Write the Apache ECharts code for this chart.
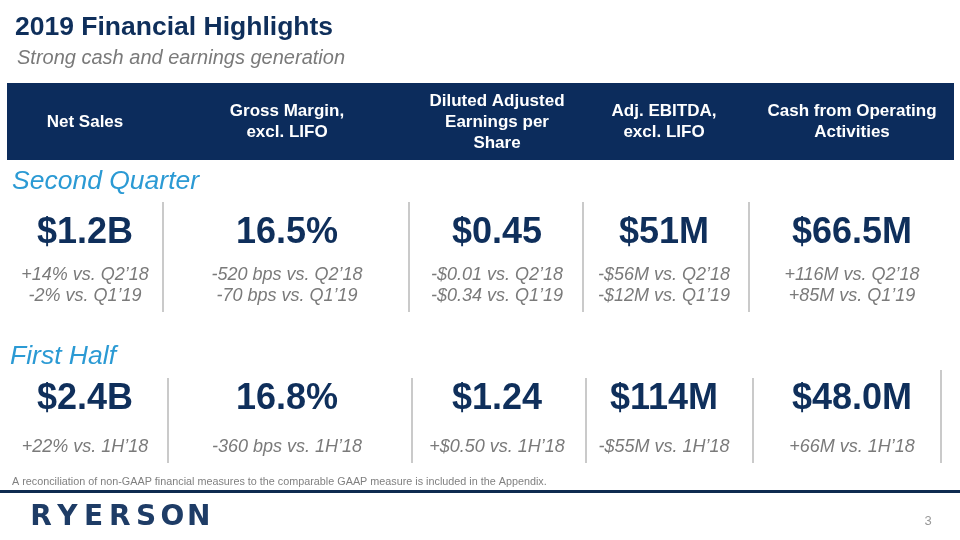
<!DOCTYPE html>
<html>
<head>
<meta charset="utf-8">
<script src="https://cdn.jsdelivr.net/npm/echarts@6/dist/echarts.min.js"></script>
<style>html,body{margin:0;padding:0;background:#fff;}#c{width:960px;height:540px;}</style>
</head>
<body>
<div id="c"></div>
<script>
// ---- data ----
const title = '2019 Financial Highlights';
const subtitle = 'Strong cash and earnings generation';
const headers = ['Net Sales', 'Gross Margin,\nexcl. LIFO', 'Diluted Adjusted\nEarnings per\nShare', 'Adj. EBITDA,\nexcl. LIFO', 'Cash from Operating\nActivities'];
const section1 = 'Second Quarter';
const q2Values = ['$1.2B', '16.5%', '$0.45', '$51M', '$66.5M'];
const q2VsPriorYear = ['+14% vs. Q2\u201918', '-520 bps vs. Q2\u201918', '-$0.01 vs. Q2\u201918', '-$56M vs. Q2\u201918', '+116M vs. Q2\u201918'];
const q2VsPriorQuarter = ['-2% vs. Q1\u201919', '-70 bps vs. Q1\u201919', '-$0.34 vs. Q1\u201919', '-$12M vs. Q1\u201919', '+85M vs. Q1\u201919'];
const section2 = 'First Half';
const h1Values = ['$2.4B', '16.8%', '$1.24', '$114M', '$48.0M'];
const h1VsPriorYear = ['+22% vs. 1H\u201918', '-360 bps vs. 1H\u201918', '+$0.50 vs. 1H\u201918', '-$55M vs. 1H\u201918', '+66M vs. 1H\u201918'];
const footnote = 'A reconciliation of non-GAAP financial measures to the comparable GAAP measure is included in the Appendix.';
const logo = 'RYERSON';
const pageNumber = '3';

// ---- layout ----
const NAVY = '#0f2f5b';
const BLUE = '#2b9ad4';
const GRAY = '#7a7a7a';
const FONT = '"Liberation Sans", Arial, sans-serif';
const colCenters = [85, 287, 497, 664, 852];
const q2Dividers = [163, 409, 583, 749];
const h1Dividers = [168, 412, 586, 753, 941];

const g = [];
function txt(x, y, text, style) {
  g.push({ type: 'text', x: x, y: y, silent: true,
    style: Object.assign({ text: text, fontFamily: FONT, textVerticalAlign: 'middle' }, style) });
}
function vline(x, y1, y2) {
  g.push({ type: 'line', silent: true, shape: { x1: x, y1: y1, x2: x, y2: y2 },
    style: { stroke: '#b9b9b9', lineWidth: 1.5 } });
}

txt(15, 28, title, { fontSize: 26.5, fontWeight: 'bold', fill: NAVY });
txt(17, 58, subtitle, { fontSize: 20, fontStyle: 'italic', fill: GRAY });

g.push({ type: 'rect', silent: true, shape: { x: 7, y: 83, width: 947, height: 77 }, style: { fill: '#0c2c5c' } });
headers.forEach((h, i) => {
  txt(colCenters[i], 122, h, { fontSize: 17, fontWeight: 'bold', fill: '#ffffff', textAlign: 'center', lineHeight: 21 });
});

txt(12, 182, section1, { fontSize: 26.5, fontStyle: 'italic', fill: BLUE });
q2Values.forEach((v, i) => {
  txt(colCenters[i], 233, v, { fontSize: 36, fontWeight: 'bold', fill: NAVY, textAlign: 'center' });
  txt(colCenters[i], 275, q2VsPriorYear[i], { fontSize: 18, fontStyle: 'italic', fill: GRAY, textAlign: 'center' });
  txt(colCenters[i], 296, q2VsPriorQuarter[i], { fontSize: 18, fontStyle: 'italic', fill: GRAY, textAlign: 'center' });
});
q2Dividers.forEach(x => vline(x, 202, 312));

txt(10, 357, section2, { fontSize: 26.5, fontStyle: 'italic', fill: BLUE });
h1Values.forEach((v, i) => {
  txt(colCenters[i], 399, v, { fontSize: 36, fontWeight: 'bold', fill: NAVY, textAlign: 'center' });
  txt(colCenters[i], 447, h1VsPriorYear[i], { fontSize: 18, fontStyle: 'italic', fill: GRAY, textAlign: 'center' });
});
h1Dividers.forEach((x, i) => vline(x, i === 4 ? 370 : 378, 463));

txt(12, 482, footnote, { fontSize: 10.8, fill: '#808080' });
g.push({ type: 'rect', silent: true, shape: { x: 0, y: 490, width: 960, height: 3 }, style: { fill: '#0e2b50' } });

logo.split('').forEach((ch, i) => {
  txt(41 + i * 26.3, 518, ch, { fontSize: 28, fontWeight: 'bold', fill: '#1e3c66', textAlign: 'center', fontFamily: '"DejaVu Sans", sans-serif' });
});
txt(928, 521, pageNumber, { fontSize: 13, fill: '#999999', textAlign: 'center' });

const chart = echarts.init(document.getElementById('c'), null, { renderer: 'canvas' });
chart.setOption({ backgroundColor: '#ffffff', animation: false, graphic: { elements: g } });
</script>
</body>
</html>
